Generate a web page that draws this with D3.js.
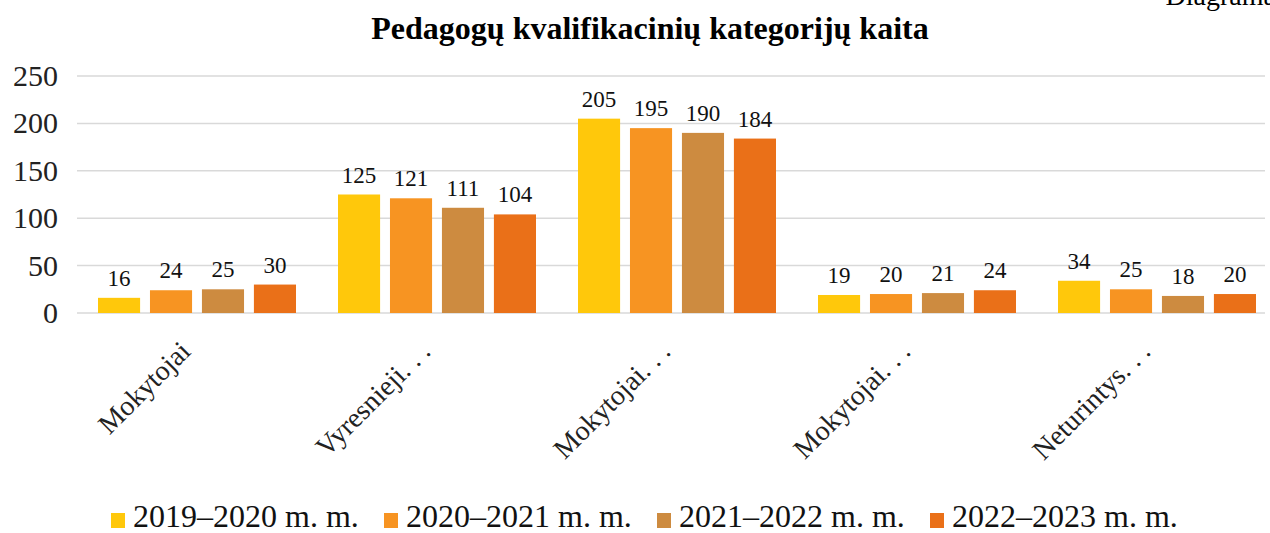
<!DOCTYPE html>
<html>
<head>
<meta charset="utf-8">
<script src="https://d3js.org/d3.v7.min.js"></script>
<style>
  body { margin: 0; background: #fff; }
  text { font-family: "Liberation Serif", "Times New Roman", serif; }
</style>
</head>
<body>
<svg width="1270" height="533"></svg>
<script>
  // data
  var categories = ["Mokytojai", "Vyresnieji…", "Mokytojai…", "Mokytojai…", "Neturintys…"];
  var seriesNames = ["2019–2020 m. m.", "2020–2021 m. m.", "2021–2022 m. m.", "2022–2023 m. m."];
  var s2019 = [16, 125, 205, 19, 34];
  var s2020 = [24, 121, 195, 20, 25];
  var s2021 = [25, 111, 190, 21, 18];
  var s2022 = [30, 104, 184, 24, 20];
  var yTicks = [0, 50, 100, 150, 200, 250];
  var colors = ["#FFC80B", "#F79422", "#CD8B40", "#EA7018"];

  var allSeries = [s2019, s2020, s2021, s2022];

  var svg = d3.select("svg");

  var x0 = d3.scaleBand().domain(d3.range(categories.length)).range([77, 1277]);
  var x1 = d3.scaleBand().domain(d3.range(seriesNames.length))
    .range([21, 219]).paddingInner(0.19);
  var y = d3.scaleLinear().domain([0, 250]).range([313, 76]);

  // title
  svg.append("text")
    .attr("x", 650).attr("y", 39)
    .attr("text-anchor", "middle")
    .attr("font-size", 32).attr("font-weight", "bold")
    .text("Pedagogų kvalifikacinių kategorijų kaita");

  // clipped page label top right
  svg.append("text")
    .attr("x", 1276).attr("y", 5)
    .attr("text-anchor", "end")
    .attr("font-size", 28)
    .text("Diagrama");

  // gridlines
  svg.append("g").selectAll("line")
    .data(yTicks).enter().append("line")
    .attr("x1", 77).attr("x2", 1265)
    .attr("y1", function(d) { return y(d); })
    .attr("y2", function(d) { return y(d); })
    .attr("stroke", "#d9d9d9").attr("stroke-width", 1.5);

  // y axis labels
  svg.append("g").selectAll("text")
    .data(yTicks).enter().append("text")
    .attr("x", 58)
    .attr("y", function(d) { return y(d) + 10; })
    .attr("text-anchor", "end")
    .attr("font-size", 30)
    .attr("fill", "#222")
    .text(function(d) { return d; });

  // bars
  allSeries.forEach(function(vals, si) {
    var g = svg.append("g");
    g.selectAll("rect")
      .data(vals).enter().append("rect")
      .attr("x", function(d, i) { return x0(i) + x1(si); })
      .attr("y", function(d) { return y(d); })
      .attr("width", x1.bandwidth())
      .attr("height", function(d) { return y(0) - y(d); })
      .attr("fill", colors[si]);
    g.selectAll("text")
      .data(vals).enter().append("text")
      .attr("x", function(d, i) { return x0(i) + x1(si) + x1.bandwidth() / 2; })
      .attr("y", function(d) { return y(d) - 12; })
      .attr("text-anchor", "middle")
      .attr("font-size", 23)
      .attr("fill", "#111")
      .text(function(d) { return d; });
  });

  // category labels (truncated ones get spaced dots like the original)
  var catText = svg.append("g").selectAll("text")
    .data(categories).enter().append("text")
    .attr("text-anchor", "end")
    .attr("font-size", 28)
    .attr("fill", "#222")
    .attr("transform", function(d, i) {
      var cx = x0(i) + x0.bandwidth() / 2 - 5;
      return "translate(" + cx + ",353) rotate(-45)";
    });
  catText.append("tspan")
    .text(function(d) { return d.replace("…", ""); });
  catText.filter(function(d) { return d.indexOf("…") >= 0; })
    .append("tspan")
    .text(". . .");

  // legend
  var leg = svg.append("g");
  seriesNames.forEach(function(name, i) {
    var lx = 111 + i * 273;
    leg.append("rect")
      .attr("x", lx).attr("y", 513)
      .attr("width", 14).attr("height", 15)
      .attr("fill", colors[i]);
    leg.append("text")
      .attr("x", lx + 22).attr("y", 527)
      .attr("font-size", 32)
      .attr("fill", "#111")
      .text(name);
  });
</script>
</body>
</html>
